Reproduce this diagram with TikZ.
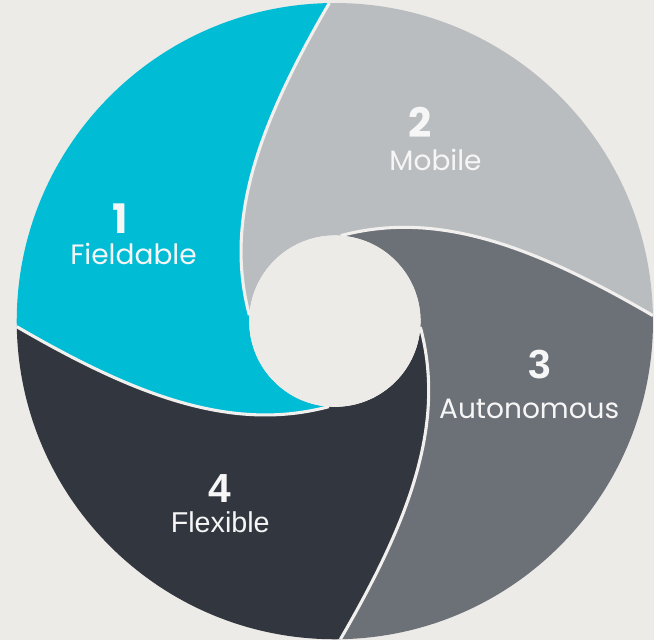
\documentclass[tikz,border=0pt]{standalone}
\usepackage{fontspec}
\newfontfamily\popfont{Poppins}
\newfontfamily\helvfont{Liberation Sans}
\usepackage{tikz}
\usetikzlibrary{calc}
\definecolor{SwirlCyan}{HTML}{00BCD4}
\definecolor{SwirlSilver}{HTML}{BABDC0}
\definecolor{SwirlSlate}{HTML}{6C7077}
\definecolor{SwirlCoal}{HTML}{32373F}
\definecolor{PaperGrey}{HTML}{EDEBE8}
\definecolor{SeamWhite}{HTML}{F2F0EE}
\definecolor{LabelWhite}{HTML}{F6F6F6}
\tikzset{
    seam/.style = {draw=SeamWhite, line width=2.2pt},
    numlabel/.style = {text=LabelWhite, inner sep=0pt,
        font=\popfont\bfseries\fontsize{29}{32}\selectfont},
    namelabel/.style = {text=LabelWhite, inner sep=0pt,
        font=\popfont\fontsize{20}{23}\selectfont},
    numlabelb/.style = {numlabel, font=\helvfont\bfseries\fontsize{29}{32}\selectfont},
    namelabelb/.style = {namelabel, font=\helvfont\fontsize{20.5}{23}\selectfont}
}

\begin{document}
\begin{tikzpicture}
        \fill[PaperGrey] (-8.4,-8.0) rectangle (8.0,8.05);
        % four swirl pieces, each one turned by 90 degrees
        \foreach \a/\col in {0/SwirlCyan,-90/SwirlSilver,-180/SwirlSlate,-270/SwirlCoal}
        {
            \fill[\col] ({\a+91}:7.98) arc[start angle={\a+91}, end angle={\a+181}, radius=7.98]
                .. controls ({\a+200.8}:5.32) and ({\a+227.4}:3.79) .. ({\a+266}:2.15)
                arc[start angle={\a+266}, end angle={\a+176}, radius=2.15]
                .. controls ({\a+137.4}:3.79) and ({\a+110.8}:5.32) .. cycle;
        }
        \foreach \a in {0,-90,-180,-270}
            \draw[seam] ({\a+91}:7.98) .. controls ({\a+110.8}:5.32) and ({\a+137.4}:3.79) .. ({\a+176}:2.15);
        \fill[PaperGrey] (0,0) circle (2.15);
        \node[numlabel] (num1) at (-5.375,2.575) {1};
        \node[namelabel] (name1) at (-5.05,1.675) {Fieldable};
        \node[numlabel] (num2) at (2.15,4.975) {2};
        \node[namelabel] (name2) at (2.525,4.05) {Mobile};
        \node[numlabelb] (num3) at (5.15,-1.1) {3};
        \node[namelabel] (name3) at (4.875,-2.2) {Autonomous};
        \node[numlabelb] (num4) at (-2.875,-4.2) {4};
        \node[namelabelb] (name4) at (-2.875,-5.04) {Flexible};
\end{tikzpicture}
\end{document}
